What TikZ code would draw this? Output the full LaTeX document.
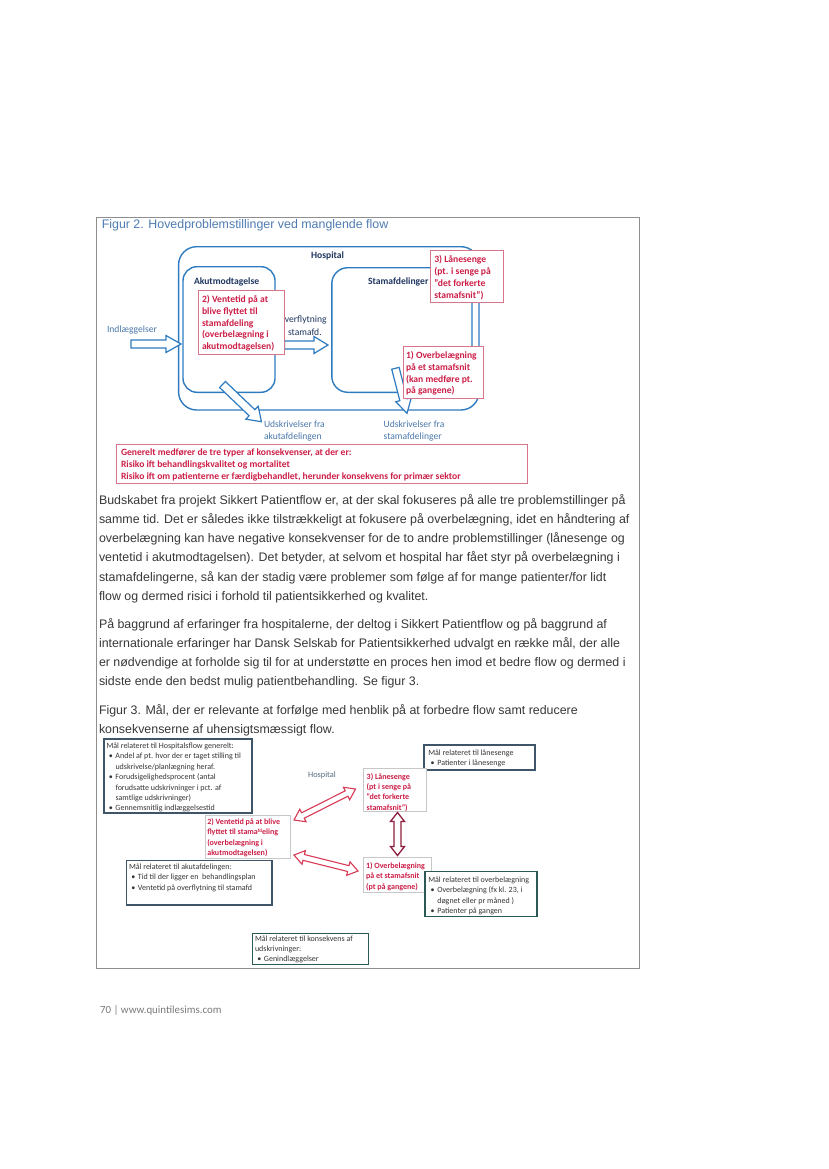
\documentclass[tikz,border=0pt]{standalone}
\usepackage{fontspec}
\setmainfont{Liberation Sans}
\newfontfamily\dfont{Carlito}
\usetikzlibrary{calc}
\definecolor{framec}{HTML}{8E8E8E}
\definecolor{figblue}{HTML}{2E7BBF}
\definecolor{navyc}{HTML}{1F3660}
\definecolor{lblue}{HTML}{4A78AC}
\definecolor{redtxt}{HTML}{CC1E47}
\definecolor{redbd}{HTML}{D9758A}
\definecolor{titleblue}{HTML}{4E7CB2}
\definecolor{bodyc}{HTML}{383838}
\definecolor{slatebd}{HTML}{3F5569}
\definecolor{tealbd}{HTML}{2B5A55}
\definecolor{lgrayc}{HTML}{C8C8C8}
\definecolor{arrred}{HTML}{D83A56}
\definecolor{maroonc}{HTML}{8E1F40}
\definecolor{boxtxt}{HTML}{353535}
\definecolor{footc}{HTML}{7A7A7A}
\definecolor{hthree}{HTML}{5A6B82}
\newcommand\bodyfnt{\fontsize{12.4}{19.2}\selectfont}
\newcommand\Ls{\rule{0pt}{0.9em}}
\newcommand\bul{\makebox[9pt][l]{\hspace{2.3pt}\textbullet}}
\newcommand\ind{\hspace*{9pt}}
\newcommand\sarrow[6]{%
  \coordinate (tmpC) at ($(#2)!#5pt!(#1)$);
  \path[#6] ($(#1)!#3pt!90:(#2)$) -- ($(tmpC)!#3pt!90:(#2)$) -- ($(tmpC)!#4pt!90:(#2)$) -- (#2) -- ($(tmpC)!#4pt!-90:(#2)$) -- ($(tmpC)!#3pt!-90:(#2)$) -- ($(#1)!#3pt!-90:(#2)$) -- cycle;}
\newcommand\darrow[6]{%
  \coordinate (tmpC) at ($(#1)!#5pt!(#2)$);
  \coordinate (tmpD) at ($(#2)!#5pt!(#1)$);
  \path[#6] (#1) -- ($(tmpC)!#4pt!90:(#2)$) -- ($(tmpC)!#3pt!90:(#2)$) -- ($(tmpD)!#3pt!90:(#2)$) -- ($(tmpD)!#4pt!90:(#2)$) -- (#2) -- ($(tmpD)!#4pt!-90:(#2)$) -- ($(tmpD)!#3pt!-90:(#2)$) -- ($(tmpC)!#3pt!-90:(#2)$) -- ($(tmpC)!#4pt!-90:(#2)$) -- cycle;}
\tikzset{
  lbl/.style={inner sep=0pt, outer sep=0pt, anchor=base west},
  ml/.style={inner sep=0pt, outer sep=0pt, anchor=north west, align=left},
  hbox/.style={draw=figblue, line width=1.4pt, inner sep=0pt, outer sep=0pt, anchor=north west},
  rbox/.style={draw=redbd, line width=0.8pt, fill=white, inner sep=0pt, outer sep=0pt, anchor=north west},
  gbox/.style={draw=lgrayc, line width=0.7pt, fill=white, inner sep=0pt, outer sep=0pt, anchor=north west},
  sbox/.style={draw=slatebd, line width=1.3pt, fill=white, inner sep=0pt, outer sep=0pt, anchor=north west},
  tbox/.style={draw=tealbd, line width=1.3pt, fill=white, inner sep=0pt, outer sep=0pt, anchor=north west},
  barrow/.style={draw=figblue, fill=white, line width=1.2pt, line join=miter},
  rarrow/.style={draw=arrred, fill=white, line width=1.1pt, line join=miter},
  marrow/.style={draw=maroonc, fill=white, line width=1.3pt, line join=miter},
  body/.style={inner sep=0pt, outer sep=0pt, anchor=base west, font=\bodyfnt, text=bodyc},
  redbold/.style={text=redtxt, font=\dfont\bfseries\fontsize{9.6}{11.9}\selectfont},
  navylbl/.style={text=navyc, font=\dfont\bfseries\fontsize{9.6}{11.9}\selectfont},
  smalltxt/.style={text=boxtxt, font=\dfont\fontsize{8}{10.35}\selectfont},
  smallred/.style={text=redtxt, font=\dfont\bfseries\fontsize{8}{10.3}\selectfont}
}
\begin{document}
\begin{tikzpicture}[x=1pt,y=-1pt]
\useasboundingbox (0,0) rectangle (828,1169);
\fill[white] (0,0) rectangle (828,1169);
% frame
\draw[framec, line width=1pt] (96,217) rectangle (639.5,968);
\node[lbl, text=titleblue, font=\fontsize{12.4}{15}\selectfont] (fig2title) at (101.8,228.3) {Figur 2. Hovedproblemstillinger ved manglende flow};
% ---- figure 2
\node[hbox, rounded corners=18pt, minimum width=300.4pt, minimum height=163.3pt] (hosp) at (178.6,246.7) {};
\node[hbox, rounded corners=14pt, minimum width=92pt, minimum height=125.6pt] (akut) at (183,266.7) {};
\node[hbox, rounded corners=16pt, minimum width=140.2pt, minimum height=124.6pt] (stam) at (331.8,267.7) {};
\node[lbl, anchor=base, navylbl] (hosplbl) at (327.5,258.2) {Hospital};
\node[lbl, navylbl] (akutlbl) at (194,284.9) {Akutmodtagelse};
\node[lbl, navylbl] (stamlbl) at (368,284.9) {Stamafdelinger};
\node[lbl, text=lblue, font=\dfont\fontsize{9.6}{11.9}\selectfont] (indlbl) at (107,332.5) {Indlæggelser};
\node[lbl, text=navyc, font=\dfont\fontsize{9.6}{11.9}\selectfont] (ovl1) at (284.8,322.5) {verflytning};
\node[lbl, text=navyc, font=\dfont\fontsize{9.6}{11.9}\selectfont] (ovl2) at (288,335.5) {stamafd.};
\coordinate (inA) at (131,344); \coordinate (inB) at (181,344);
\sarrow{inA}{inB}{4}{8.5}{15}{barrow}
\coordinate (ovA) at (284.6,345); \coordinate (ovB) at (328,345);
\sarrow{ovA}{ovB}{4}{8.5}{14}{barrow}
\coordinate (u1A) at (222.5,384.5); \coordinate (u1B) at (261.4,421.7);
\sarrow{u1A}{u1B}{4.2}{9}{13}{barrow}
\coordinate (u2A) at (395.4,368.3); \coordinate (u2B) at (407,413.3);
\sarrow{u2A}{u2B}{3.8}{8}{14}{barrow}
\node[rbox, minimum width=86.6pt, minimum height=64.3pt] (b2) at (198,290) {};
\node[ml, redbold] (t2) at (202,293.6) {\Ls 2) Ventetid på at\\blive flyttet til\\stamafdeling\\(overbelægning i\\akutmodtagelsen)};
\node[rbox, minimum width=73pt, minimum height=52pt] (b3) at (430.5,250.5) {};
\node[ml, redbold] (t3) at (434.3,253.9) {\Ls 3) Lånesenge\\(pt. i senge på\\”det forkerte\\stamafsnit”)};
\node[rbox, minimum width=80pt, minimum height=51.6pt] (b1) at (403,346.7) {};
\node[ml, redbold] (t1) at (406,349.6) {\Ls 1) Overbelægning\\på et stamafsnit\\(kan medføre pt.\\på gangene)};
\node[ml, text=lblue, font=\dfont\fontsize{9.6}{12.7}\selectfont] (tu1) at (264,418.6) {\Ls Udskrivelser fra\\akutafdelingen};
\node[ml, text=lblue, font=\dfont\fontsize{9.6}{12.7}\selectfont] (tu2) at (383.6,418.6) {\Ls Udskrivelser fra\\stamafdelinger};
\node[rbox, minimum width=410.7pt, minimum height=39pt] (bgen) at (116.8,444.3) {};
\node[ml, redbold] (tgen) at (121,446.9) {\Ls Generelt medfører de tre typer af konsekvenser, at der er:\\Risiko ift behandlingskvalitet og mortalitet\\Risiko ift om patienterne er færdigbehandlet, herunder konsekvens for primær sektor};
% ---- body text
\node[body] (p1a) at (99,504.2) {Budskabet fra projekt Sikkert Patientflow er, at der skal fokuseres på alle tre problemstillinger på};
\node[body] (p1b) at (99,523.4) {samme tid. Det er således ikke tilstrækkeligt at fokusere på overbelægning, idet en håndtering af};
\node[body] (p1c) at (99,542.6) {overbelægning kan have negative konsekvenser for de to andre problemstillinger (lånesenge og};
\node[body] (p1d) at (99,561.8) {ventetid i akutmodtagelsen). Det betyder, at selvom et hospital har fået styr på overbelægning i};
\node[body] (p1e) at (99,581.0) {stamafdelingerne, så kan der stadig være problemer som følge af for mange patienter/for lidt};
\node[body] (p1f) at (99,600.2) {flow og dermed risici i forhold til patientsikkerhed og kvalitet.};
\node[body] (p2a) at (99,628.2) {På baggrund af erfaringer fra hospitalerne, der deltog i Sikkert Patientflow og på baggrund af};
\node[body] (p2b) at (99,647.4) {internationale erfaringer har Dansk Selskab for Patientsikkerhed udvalgt en række mål, der alle};
\node[body] (p2c) at (99,666.6) {er nødvendige at forholde sig til for at understøtte en proces hen imod et bedre flow og dermed i};
\node[body] (p2d) at (99,685.8) {sidste ende den bedst mulig patientbehandling. Se figur 3.};
\node[body] (cap3a) at (99,714.2) {Figur 3. Mål, der er relevante at forfølge med henblik på at forbedre flow samt reducere};
\node[body] (cap3b) at (99,733.4) {konsekvenserne af uhensigtsmæssigt flow.};
% ---- figure 3
\node[lbl, anchor=base, text=hthree, font=\dfont\fontsize{8.3}{10}\selectfont] (hosp3) at (322,777) {Hospital};
\node[sbox, minimum width=148pt, minimum height=74pt] (mA) at (104,739) {};
\node[ml, smalltxt] (mAt) at (106.5,741.4) {\Ls Mål relateret til Hospitalsflow generelt:\\\bul Andel af pt. hvor der er taget stilling til\\\ind udskrivelse/planlægning heraf.\\\bul Forudsigelighedsprocent (antal\\\ind forudsatte udskrivninger i pct. af\\\ind samtlige udskrivninger)\\\bul Gennemsnitlig indlæggelsestid};
\node[sbox, minimum width=111pt, minimum height=25pt] (mC) at (424,745) {};
\node[ml, smalltxt] (mCt) at (428.3,748.1) {\Ls Mål relateret til lånesenge\\\bul Patienter i lånesenge};
\node[gbox, minimum width=63.4pt, minimum height=43.4pt] (r3) at (363.3,768.3) {};
\node[ml, smallred] (r3t) at (366.7,772.1) {\Ls 3) Lånesenge\\(pt i senge på\\”det forkerte\\stamafsnit”)};
\node[gbox, minimum width=85pt, minimum height=43.3pt] (r2) at (205,815) {};
\node[ml, smallred, font=\dfont\bfseries\fontsize{8}{10.5}\selectfont] (r2t) at (207.3,817.1) {\Ls 2) Ventetid på at blive\\flyttet til stama\raisebox{2pt}{\fontsize{5}{5}\selectfont fd}eling\\(overbelægning i\\akutmodtagelsen)};
\node[sbox, minimum width=145.3pt, minimum height=44.3pt] (mE) at (126.7,860.7) {};
\node[ml, smalltxt, font=\dfont\fontsize{8}{10.5}\selectfont] (mEt) at (129,862.1) {\Ls Mål relateret til akutafdelingen:\\\bul Tid til der ligger en\ \ behandlingsplan\\\bul Ventetid på overflytning til stamafd};
\node[gbox, minimum width=68.4pt, minimum height=35.4pt] (r1) at (363.3,857.3) {};
\node[ml, smallred] (r1t) at (366,861.4) {\Ls 1) Overbelægning\\på et stamafsnit\\(pt på gangene)};
\node[tbox, minimum width=112pt, minimum height=45pt] (mG) at (425,871.7) {};
\node[ml, smalltxt, font=\dfont\fontsize{8}{10.2}\selectfont] (mGt) at (428.3,875.4) {\Ls Mål relateret til overbelægning\\\bul Overbelægning (fx kl. 23, i\\\ind døgnet eller pr måned )\\\bul Patienter på gangen};
\node[tbox, minimum width=116pt, minimum height=31pt] (mH) at (252.5,933.3) {};
\node[ml, smalltxt, font=\dfont\fontsize{8}{9.7}\selectfont] (mHt) at (255,934.4) {\Ls Mål relateret til konsekvens af\\udskrivninger:\\\bul Genindlæggelser};
\coordinate (a1s) at (294,820); \coordinate (a1e) at (355.5,789);
\darrow{a1s}{a1e}{3}{7}{10}{rarrow}
\coordinate (a2s) at (294,855); \coordinate (a2e) at (358,871);
\darrow{a2s}{a2e}{3}{7}{10}{rarrow}
\coordinate (a3s) at (397.5,812.5); \coordinate (a3e) at (397.5,855.5);
\darrow{a3s}{a3e}{3.5}{7}{9}{marrow}
% footer
\node[lbl, text=footc, font=\dfont\fontsize{10.9}{13}\selectfont] (footer) at (100,1013.8) {70 | www.quintilesims.com};
\end{tikzpicture}
\end{document}
